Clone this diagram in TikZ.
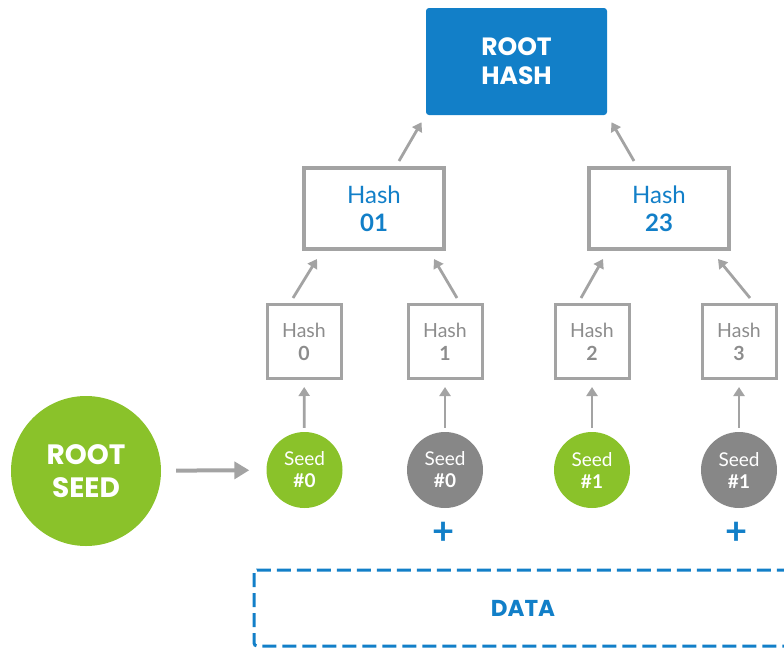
\documentclass[tikz,border=0pt]{standalone}
\usepackage{fontspec}
\setmainfont{Lato}
\newfontfamily\capsfont{Poppins}
\usetikzlibrary{arrows.meta}
\definecolor{hashblue}{HTML}{127FC8}
\definecolor{seedgreen}{HTML}{8AC22A}
\definecolor{seedgray}{HTML}{878787}
\definecolor{linegray}{HTML}{A3A3A3}
\definecolor{textgray}{HTML}{8C8C8C}

\begin{document}
\begin{tikzpicture}[x=1pt,y=-1pt,
        arr/.style={draw=linegray,line width=2.8pt,-{Triangle[length=9pt,width=11pt]}},
        bigbox/.style={draw=linegray,line width=4pt,minimum width=140pt,minimum height=81pt,
            align=center,text=hashblue,font=\fontsize{24}{28}\selectfont},
        smallbox/.style={draw=linegray,line width=3pt,minimum width=74pt,minimum height=74pt,
            align=center,text=textgray,font=\fontsize{19.5}{23}\selectfont},
        seed/.style={circle,minimum size=76pt,inner sep=0pt,align=center,text=white,
            font=\fontsize{19}{22}\selectfont}]
        \useasboundingbox (0,0) rectangle (784,648);
        \clip (0,0) rectangle (784,648);

        \node[fill=hashblue,rounded corners=3pt,minimum width=181pt,minimum height=107pt,align=center,
            text=white,font=\capsfont\bfseries\fontsize{25}{29}\selectfont] (root) at (516.5,61.5) {ROOT\\HASH};

        \node[bigbox] (h01) at (374,208.5) {Hash\\\textbf{01}};
        \node[bigbox] (h23) at (659,208.5) {Hash\\\textbf{23}};

        \begin{scope}[every node/.style={smallbox}]
            \node (h0) at (304,341.5) {Hash\\\textbf{0}};
            \node (h1) at (445,341.5) {Hash\\\textbf{1}};
            \node (h2) at (592,341.5) {Hash\\\textbf{2}};
            \node (h3) at (739,341.5) {Hash\\\textbf{3}};
        \end{scope}

        \begin{scope}[every node/.style={seed}]
            \node[fill=seedgreen] (s0) at (304.5,470) {Seed\\\textbf{\#0}};
            \node[fill=seedgray] (s1) at (445,470) {Seed\\\textbf{\#0}};
            \node[fill=seedgreen] (s2) at (592,470) {Seed\\\textbf{\#1}};
            \node[fill=seedgray] (s3) at (739,470) {Seed\\\textbf{\#1}};
        \end{scope}

        \node[circle,fill=seedgreen,minimum size=150pt,align=center,text=white,
            font=\capsfont\bfseries\fontsize{28}{33}\selectfont] (rootseed) at (86,471) {ROOT\\SEED};

        \draw[arr,line width=4pt,-{Triangle[length=15pt,width=17pt]},shorten <=15pt,shorten >=17pt] (rootseed) -- (s0);
        \foreach \i in {0,1,2,3}
            \draw[arr,shorten <=4pt,shorten >=7pt] (s\i) -- (h\i);

        \draw[arr] ([xshift=-11pt,yshift=5pt]h0.north) -- ([xshift=-57pt,yshift=-8pt]h01.south);
        \draw[arr] ([xshift=12pt,yshift=5pt]h1.north) -- ([xshift=60pt,yshift=-8pt]h01.south);
        \draw[arr] ([xshift=-11pt,yshift=5pt]h2.north) -- ([xshift=-56pt,yshift=-8pt]h23.south);
        \draw[arr] ([xshift=11pt,yshift=5pt]h3.north) -- ([xshift=59pt,yshift=-8pt]h23.south);
        \draw[arr] ([xshift=25pt,yshift=5pt]h01.north) -- ([xshift=-95pt,yshift=-7pt]root.south);
        \draw[arr] ([xshift=-25pt,yshift=5pt]h23.north) -- ([xshift=95pt,yshift=-7pt]root.south);

        \begin{scope}[every node/.style={text=hashblue,font=\bfseries\fontsize{38}{38}\selectfont}]
            \node (p1) at (444,533) {+};
            \node (p3) at (737,533) {+};
        \end{scope}

        \draw[hashblue,line width=3pt,dash pattern=on 14pt off 6pt,rounded corners=3pt]
            (254,570) rectangle (830,646);
        \node[text=hashblue,font=\capsfont\bfseries\fontsize{23}{26}\selectfont] (data) at (523,608) {DATA};
    \end{tikzpicture}
\end{document}
